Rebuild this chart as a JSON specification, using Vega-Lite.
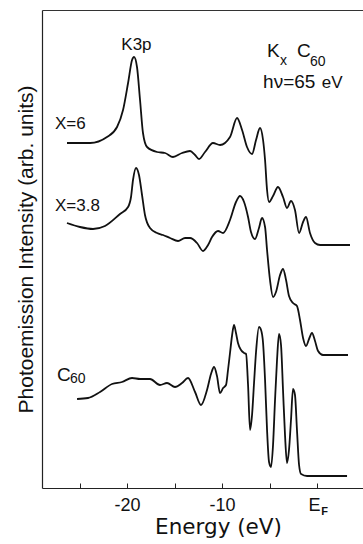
{
  "$schema": "https://vega.github.io/schema/vega-lite/v6.json",
  "width": 321,
  "height": 478,
  "autosize": "none",
  "padding": {"left": 42, "top": 10, "right": 0, "bottom": 56},
  "background": "white",
  "config": {"view": {"stroke": null}, "font": "Liberation Sans"},
  "datasets": {
    "curves": [
      {"series": "x6", "e": -26.32, "i": 345}, {"series": "x6", "e": -23.89, "i": 345}, {"series": "x6", "e": -22.11, "i": 351},
      {"series": "x6", "e": -21.05, "i": 361}, {"series": "x6", "e": -20.42, "i": 378}, {"series": "x6", "e": -19.89, "i": 405},
      {"series": "x6", "e": -19.47, "i": 428}, {"series": "x6", "e": -19.26, "i": 431}, {"series": "x6", "e": -18.95, "i": 421},
      {"series": "x6", "e": -18.63, "i": 388}, {"series": "x6", "e": -18.32, "i": 355}, {"series": "x6", "e": -17.89, "i": 341},
      {"series": "x6", "e": -16.84, "i": 336}, {"series": "x6", "e": -16.0, "i": 335}, {"series": "x6", "e": -15.16, "i": 331},
      {"series": "x6", "e": -14.21, "i": 335}, {"series": "x6", "e": -13.37, "i": 337}, {"series": "x6", "e": -12.84, "i": 333},
      {"series": "x6", "e": -12.42, "i": 329}, {"series": "x6", "e": -11.79, "i": 336}, {"series": "x6", "e": -10.95, "i": 345},
      {"series": "x6", "e": -10.21, "i": 343}, {"series": "x6", "e": -9.16, "i": 351}, {"series": "x6", "e": -8.42, "i": 370},
      {"series": "x6", "e": -7.89, "i": 358}, {"series": "x6", "e": -7.37, "i": 341}, {"series": "x6", "e": -6.84, "i": 334},
      {"series": "x6", "e": -6.42, "i": 348}, {"series": "x6", "e": -6.0, "i": 360}, {"series": "x6", "e": -5.68, "i": 348},
      {"series": "x6", "e": -5.47, "i": 328}, {"series": "x6", "e": -5.26, "i": 298}, {"series": "x6", "e": -5.05, "i": 286},
      {"series": "x6", "e": -4.63, "i": 292}, {"series": "x6", "e": -4.11, "i": 301}, {"series": "x6", "e": -3.58, "i": 291},
      {"series": "x6", "e": -3.16, "i": 280}, {"series": "x6", "e": -2.74, "i": 287}, {"series": "x6", "e": -2.32, "i": 278},
      {"series": "x6", "e": -1.89, "i": 255}, {"series": "x6", "e": -1.47, "i": 266}, {"series": "x6", "e": -1.16, "i": 271},
      {"series": "x6", "e": -0.74, "i": 255}, {"series": "x6", "e": -0.21, "i": 245}, {"series": "x6", "e": 0.32, "i": 243},
      {"series": "x6", "e": 3.47, "i": 243},

      {"series": "x38", "e": -26.32, "i": 265}, {"series": "x38", "e": -24.95, "i": 261}, {"series": "x38", "e": -23.58, "i": 259},
      {"series": "x38", "e": -22.32, "i": 262}, {"series": "x38", "e": -20.74, "i": 274}, {"series": "x38", "e": -19.89, "i": 281},
      {"series": "x38", "e": -19.58, "i": 291}, {"series": "x38", "e": -19.37, "i": 308}, {"series": "x38", "e": -19.05, "i": 320},
      {"series": "x38", "e": -18.74, "i": 313}, {"series": "x38", "e": -18.42, "i": 293}, {"series": "x38", "e": -18.11, "i": 273},
      {"series": "x38", "e": -17.58, "i": 260}, {"series": "x38", "e": -16.84, "i": 255}, {"series": "x38", "e": -16.21, "i": 253},
      {"series": "x38", "e": -15.47, "i": 250}, {"series": "x38", "e": -14.63, "i": 247}, {"series": "x38", "e": -13.89, "i": 250},
      {"series": "x38", "e": -13.37, "i": 250}, {"series": "x38", "e": -12.63, "i": 245}, {"series": "x38", "e": -12.0, "i": 237},
      {"series": "x38", "e": -11.47, "i": 243}, {"series": "x38", "e": -11.05, "i": 251}, {"series": "x38", "e": -10.42, "i": 257},
      {"series": "x38", "e": -9.89, "i": 255}, {"series": "x38", "e": -9.16, "i": 268}, {"series": "x38", "e": -8.53, "i": 286},
      {"series": "x38", "e": -8.11, "i": 292}, {"series": "x38", "e": -7.68, "i": 286}, {"series": "x38", "e": -7.26, "i": 271},
      {"series": "x38", "e": -6.95, "i": 256}, {"series": "x38", "e": -6.53, "i": 249}, {"series": "x38", "e": -6.11, "i": 260},
      {"series": "x38", "e": -5.79, "i": 270}, {"series": "x38", "e": -5.47, "i": 261}, {"series": "x38", "e": -5.26, "i": 238},
      {"series": "x38", "e": -4.95, "i": 208}, {"series": "x38", "e": -4.63, "i": 191}, {"series": "x38", "e": -4.32, "i": 196},
      {"series": "x38", "e": -3.89, "i": 213}, {"series": "x38", "e": -3.58, "i": 219}, {"series": "x38", "e": -3.26, "i": 208},
      {"series": "x38", "e": -2.95, "i": 192}, {"series": "x38", "e": -2.53, "i": 185}, {"series": "x38", "e": -2.11, "i": 182},
      {"series": "x38", "e": -1.79, "i": 168}, {"series": "x38", "e": -1.47, "i": 150}, {"series": "x38", "e": -1.16, "i": 142},
      {"series": "x38", "e": -0.84, "i": 149}, {"series": "x38", "e": -0.53, "i": 155}, {"series": "x38", "e": -0.21, "i": 147},
      {"series": "x38", "e": 0.11, "i": 137}, {"series": "x38", "e": 0.63, "i": 133}, {"series": "x38", "e": 3.26, "i": 133},

      {"series": "c60", "e": -25.26, "i": 89}, {"series": "c60", "e": -24.11, "i": 90}, {"series": "c60", "e": -22.84, "i": 96},
      {"series": "c60", "e": -21.58, "i": 104}, {"series": "c60", "e": -20.53, "i": 106}, {"series": "c60", "e": -19.47, "i": 110},
      {"series": "c60", "e": -18.63, "i": 109}, {"series": "c60", "e": -17.58, "i": 109}, {"series": "c60", "e": -16.53, "i": 103},
      {"series": "c60", "e": -15.79, "i": 105}, {"series": "c60", "e": -14.95, "i": 101}, {"series": "c60", "e": -14.21, "i": 105},
      {"series": "c60", "e": -13.58, "i": 110}, {"series": "c60", "e": -12.84, "i": 96}, {"series": "c60", "e": -12.21, "i": 83},
      {"series": "c60", "e": -11.58, "i": 98}, {"series": "c60", "e": -11.16, "i": 114}, {"series": "c60", "e": -10.84, "i": 121},
      {"series": "c60", "e": -10.53, "i": 112}, {"series": "c60", "e": -10.21, "i": 95}, {"series": "c60", "e": -9.89, "i": 100},
      {"series": "c60", "e": -9.58, "i": 103}, {"series": "c60", "e": -9.37, "i": 118}, {"series": "c60", "e": -9.16, "i": 135},
      {"series": "c60", "e": -8.95, "i": 152}, {"series": "c60", "e": -8.74, "i": 163}, {"series": "c60", "e": -8.53, "i": 155},
      {"series": "c60", "e": -8.32, "i": 145}, {"series": "c60", "e": -8.0, "i": 138}, {"series": "c60", "e": -7.68, "i": 135},
      {"series": "c60", "e": -7.47, "i": 134}, {"series": "c60", "e": -7.26, "i": 103}, {"series": "c60", "e": -7.05, "i": 58},
      {"series": "c60", "e": -6.84, "i": 73}, {"series": "c60", "e": -6.63, "i": 105}, {"series": "c60", "e": -6.42, "i": 136},
      {"series": "c60", "e": -6.11, "i": 161}, {"series": "c60", "e": -5.89, "i": 158}, {"series": "c60", "e": -5.68, "i": 145},
      {"series": "c60", "e": -5.47, "i": 108}, {"series": "c60", "e": -5.26, "i": 58}, {"series": "c60", "e": -5.05, "i": 26},
      {"series": "c60", "e": -4.84, "i": 21}, {"series": "c60", "e": -4.63, "i": 43}, {"series": "c60", "e": -4.42, "i": 88},
      {"series": "c60", "e": -4.21, "i": 128}, {"series": "c60", "e": -4.0, "i": 154}, {"series": "c60", "e": -3.79, "i": 143},
      {"series": "c60", "e": -3.58, "i": 98}, {"series": "c60", "e": -3.37, "i": 53}, {"series": "c60", "e": -3.16, "i": 25},
      {"series": "c60", "e": -2.95, "i": 38}, {"series": "c60", "e": -2.74, "i": 68}, {"series": "c60", "e": -2.53, "i": 99},
      {"series": "c60", "e": -2.32, "i": 93}, {"series": "c60", "e": -2.11, "i": 58}, {"series": "c60", "e": -1.89, "i": 23},
      {"series": "c60", "e": -1.68, "i": 14}, {"series": "c60", "e": -1.05, "i": 12}, {"series": "c60", "e": 3.16, "i": 12}
    ],
    "labels": [
      {"text": "K3p", "e": -20.6, "i": 438, "role": "main"},
      {"text": "X=6", "e": -27.58, "i": 359, "role": "main"},
      {"text": "X=3.8", "e": -27.58, "i": 277, "role": "main"},
      {"text": "eV", "e": 0.5, "i": 400, "role": "main"},
      {"text": "C", "e": -27.37, "i": 107, "role": "large"},
      {"text": "K", "e": -5.26, "i": 431, "role": "large"},
      {"text": "C", "e": -2.11, "i": 431, "role": "large"},
      {"text": "hν=65", "e": -5.68, "i": 400, "role": "large"},
      {"text": "60", "e": -26.0, "i": 105, "role": "sub"},
      {"text": "x", "e": -3.89, "i": 423, "role": "sub"},
      {"text": "60", "e": -0.74, "i": 422, "role": "sub"}
    ]
  },
  "layer": [
    {
      "data": {"name": "curves"},
      "mark": {"type": "line", "color": "#111", "strokeWidth": 1.8, "interpolate": "monotone", "clip": true},
      "encoding": {
        "x": {
          "field": "e", "type": "quantitative",
          "scale": {"domain": [-28.95, 4.84], "nice": false, "zero": false},
          "axis": {
            "orient": "bottom", "values": [-25, -20, -15, -10, -5, 0],
            "labelExpr": "datum.value == -20 ? '-20' : datum.value == -10 ? '-10' : datum.value == 0 ? 'E' : ''",
            "labelOffset": {"condition": {"test": "datum.value == 0", "value": -3}, "value": 0},
            "grid": false, "tickSize": -5, "tickColor": "#222", "tickWidth": 1,
            "domainColor": "#222", "domainWidth": 1.2,
            "labelFontSize": 18, "labelColor": "#111", "labelPadding": 13, "labelFlush": false, "labelOverlap": false,
            "title": "Energy (eV)", "titleFont": "DejaVu Sans", "titleFontSize": 21.5, "titleFontWeight": "normal",
            "titleColor": "#111", "titleX": 176, "titleY": 45, "titleBaseline": "alphabetic"
          }
        },
        "y": {
          "field": "i", "type": "quantitative",
          "scale": {"domain": [0, 478], "nice": false, "zero": false},
          "axis": {
            "orient": "left", "grid": false, "ticks": false, "labels": false,
            "domainColor": "#222", "domainWidth": 1.2,
            "title": "Photoemission Intensity (arb. units)", "titleFontSize": 21, "titleFontWeight": "normal",
            "titleColor": "#111", "titlePadding": 6
          }
        },
        "detail": {"field": "series"}
      }
    },
    {
      "data": {"name": "labels"},
      "transform": [{"filter": "datum.role == 'large'"}],
      "mark": {"type": "text", "align": "left", "baseline": "alphabetic", "fontSize": 19, "color": "#111"},
      "encoding": {
        "x": {"field": "e", "type": "quantitative", "scale": {"domain": [-28.95, 4.84], "nice": false, "zero": false},
          "axis": {"orient": "top", "domain": true, "domainColor": "#333", "domainWidth": 1, "ticks": false, "labels": false, "grid": false, "title": null}},
        "y": {"field": "i", "type": "quantitative", "scale": {"domain": [0, 478], "nice": false, "zero": false},
          "axis": {
            "orient": "left", "grid": false, "ticks": false, "labels": false,
            "domainColor": "#222", "domainWidth": 1.2,
            "title": "Photoemission Intensity (arb. units)", "titleFontSize": 21, "titleFontWeight": "normal",
            "titleColor": "#111", "titlePadding": 6
          }},
        "text": {"field": "text"}
      }
    },
    {
      "data": {"name": "labels"},
      "transform": [{"filter": "datum.role == 'main'"}],
      "mark": {"type": "text", "align": "left", "baseline": "alphabetic", "fontSize": 17, "color": "#111"},
      "encoding": {
        "x": {"field": "e", "type": "quantitative", "scale": {"domain": [-28.95, 4.84], "nice": false, "zero": false},
          "axis": {"orient": "bottom", "values": [0], "labelExpr": "'F'", "domain": false, "ticks": false, "grid": false,
            "labelFontSize": 11, "labelFontWeight": "bold", "labelColor": "#111", "labelOffset": 7, "labelPadding": 17, "labelFlush": false, "title": null}},
        "y": {"field": "i", "type": "quantitative", "scale": {"domain": [0, 478], "nice": false, "zero": false},
          "axis": {
            "orient": "left", "grid": false, "ticks": false, "labels": false,
            "domainColor": "#222", "domainWidth": 1.2,
            "title": "Photoemission Intensity (arb. units)", "titleFontSize": 21, "titleFontWeight": "normal",
            "titleColor": "#111", "titlePadding": 6
          }},
        "text": {"field": "text"}
      }
    },
    {
      "data": {"name": "labels"},
      "transform": [{"filter": "datum.role == 'sub'"}],
      "mark": {"type": "text", "align": "left", "baseline": "alphabetic", "fontSize": 14, "color": "#111"},
      "encoding": {
        "x": {"field": "e", "type": "quantitative", "scale": {"domain": [-28.95, 4.84], "nice": false, "zero": false}, "axis": null},
        "y": {"field": "i", "type": "quantitative", "scale": {"domain": [0, 478], "nice": false, "zero": false},
          "axis": {
            "orient": "left", "grid": false, "ticks": false, "labels": false,
            "domainColor": "#222", "domainWidth": 1.2,
            "title": "Photoemission Intensity (arb. units)", "titleFontSize": 21, "titleFontWeight": "normal",
            "titleColor": "#111", "titlePadding": 6
          }},
        "text": {"field": "text"}
      }
    }
  ],
  "resolve": {"axis": {"x": "independent", "y": "shared"}}
}
